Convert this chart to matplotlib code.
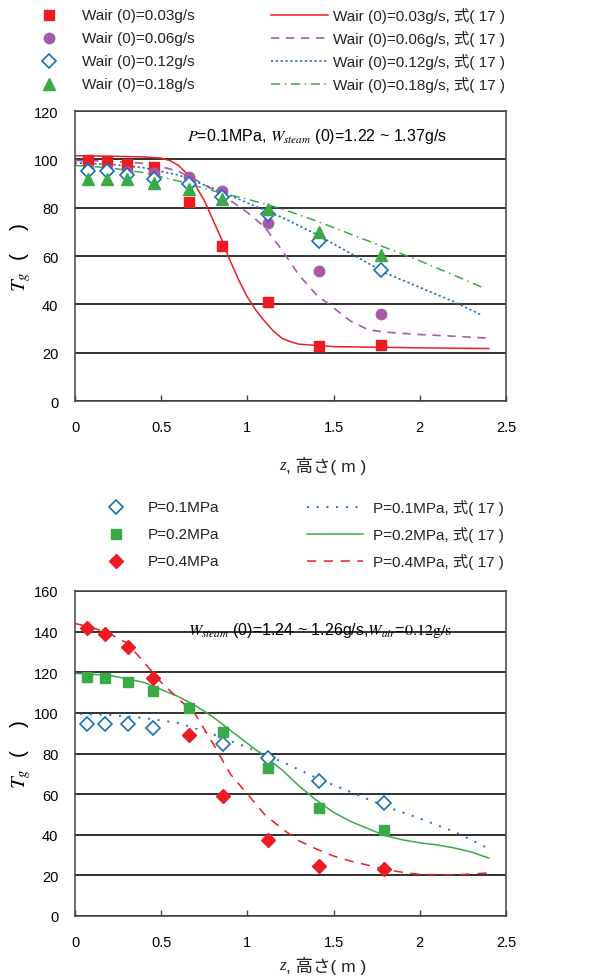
import matplotlib
matplotlib.use('Agg')
import matplotlib.pyplot as plt
from matplotlib.lines import Line2D
import numpy as np

plt.rcParams['font.family'] = ['Liberation Sans', 'Noto Sans CJK JP']
plt.rcParams['mathtext.fontset'] = 'stix'

RED = '#ed1c24'
PURPLE = '#a65aa8'
BLUE = '#1a6fb8'
GREEN = '#3aaa48'

# --- upper panel: measured gas temperature, P=0.1MPa ---
z_meas = [0.075, 0.185, 0.30, 0.46, 0.66, 0.855, 1.12, 1.415, 1.775]
tg_air003 = [99.7, 99.4, 98.0, 96.8, 82.3, 64.0, 41.0, 22.7, 23.3]
tg_air006 = [96.0, 95.7, 94.9, 94.3, 92.8, 87.0, 73.6, 53.6, 36.0]
tg_air012 = [95.3, 95.3, 93.6, 91.8, 89.8, 84.5, 77.4, 66.3, 54.3]
tg_air018 = [91.8, 91.8, 92.0, 90.2, 87.7, 83.6, 79.4, 70.0, 60.4]

# eq.(17) model curves
z_m003 = [0, 0.2, 0.4, 0.5, 0.55, 0.6, 0.65, 0.7, 0.75, 0.8, 0.85, 0.9, 0.95,
          1.0, 1.05, 1.1, 1.15, 1.2, 1.25, 1.3, 1.5, 2.0, 2.4]
t_m003 = [101.5, 101.3, 101.0, 100.5, 99.5, 97.5, 94.0, 89.0, 83.0, 75.0, 67.0, 58.0, 50.0,
          43.0, 37.5, 33.0, 29.0, 26.0, 24.5, 23.5, 22.5, 22.0, 21.7]
z_m006 = [0, 0.2, 0.4, 0.5, 0.6, 0.7, 0.8, 0.9, 1.0, 1.1, 1.2, 1.3, 1.4, 1.5,
          1.6, 1.7, 1.8, 2.0, 2.2, 2.4]
t_m006 = [99.5, 99.3, 98.3, 97.0, 95.0, 91.5, 87.5, 83.0, 78.0, 72.0, 62.5, 52.0, 44.0, 38.5,
          33.0, 29.5, 28.5, 27.5, 26.8, 26.0]
z_m012 = [0, 0.2, 0.4, 0.6, 0.8, 1.0, 1.2, 1.4, 1.6, 1.8, 2.0, 2.2, 2.36]
t_m012 = [98.5, 98.0, 96.5, 93.5, 88.0, 82.0, 76.0, 69.0, 61.0, 53.0, 47.0, 41.0, 35.5]
z_m018 = [0, 0.2, 0.4, 0.6, 0.8, 1.0, 1.2, 1.4, 1.6, 1.8, 2.0, 2.2, 2.38]
t_m018 = [97.5, 96.5, 94.5, 91.0, 87.0, 83.5, 79.5, 74.5, 69.0, 63.5, 58.0, 52.0, 46.5]

# --- lower panel: pressure series, Wair=0.12g/s ---
z_p01 = [0.072, 0.174, 0.31, 0.454, 0.857, 1.12, 1.416, 1.79]
tg_p01 = [94.5, 94.5, 94.5, 92.6, 84.7, 77.8, 66.5, 55.6]
z_p = [0.072, 0.174, 0.31, 0.454, 0.66, 0.857, 1.12, 1.416, 1.79]
tg_p02 = [117.8, 117.2, 115.0, 111.0, 102.4, 90.4, 72.8, 53.0, 42.3]
tg_p04 = [141.8, 138.8, 132.3, 117.0, 89.3, 59.2, 37.4, 24.8, 23.1]

z_c01 = [0.03, 0.2, 0.4, 0.6, 0.8, 1.0, 1.2, 1.4, 1.6, 1.8, 2.0, 2.2, 2.38]
t_c01 = [99.5, 99.0, 97.5, 95.0, 89.5, 83.0, 76.0, 68.0, 61.0, 54.0, 48.0, 41.5, 34.0]
z_c02 = [0, 0.2, 0.4, 0.6, 0.7, 0.8, 0.9, 1.0, 1.1, 1.2, 1.3, 1.4, 1.5, 1.6, 1.7,
         1.8, 1.9, 2.0, 2.1, 2.2, 2.3, 2.4]
t_c02 = [119.5, 118.5, 115.0, 108.0, 103.5, 98.0, 91.5, 85.0, 78.5, 72.0, 64.0, 57.0, 51.0,
         46.5, 43.0, 39.5, 37.5, 36.0, 35.0, 33.5, 31.5, 28.5]
z_c04 = [0, 0.1, 0.2, 0.3, 0.4, 0.5, 0.6, 0.7, 0.8, 0.9, 1.0, 1.1, 1.2, 1.3, 1.4,
         1.5, 1.6, 1.7, 1.8, 1.9, 2.0, 2.2, 2.4]
t_c04 = [144.0, 142.0, 139.0, 134.5, 125.0, 115.0, 107.0, 99.0, 85.0, 70.0, 60.0, 50.0, 43.0,
         37.0, 33.0, 29.5, 27.0, 25.0, 23.0, 21.5, 20.5, 20.2, 21.2]

fig = plt.figure(figsize=(6.08, 9.79), dpi=100)
W, H = 608.0, 979.0


def px(x, y):
    return x / W, 1 - y / H


def style_axes(ax, ymax, xlabel_y):
    ax.set_xlim(0, 2.5)
    ax.set_ylim(0, ymax)
    ax.set_xticks([0, 0.5, 1, 1.5, 2, 2.5])
    ax.set_xticklabels(['0', '0.5', '1', '1.5', '2', '2.5'])
    ax.set_yticks(np.arange(0, ymax + 1, 20))
    ax.yaxis.grid(True, color='#222222', linewidth=1.3)
    ax.set_axisbelow(True)
    ax.tick_params(axis='x', direction='in', length=4, width=1, color='#444444',
                   labelsize=10.5, pad=14)
    ax.tick_params(axis='y', length=0, labelsize=10.5, pad=12)
    for sp in ax.spines.values():
        sp.set_color('#444444')
        sp.set_linewidth(1.1)
    ax.set_ylabel(r'$T_{g}$  (    )', fontsize=15)
    ax.yaxis.set_label_coords(-0.098, 0.5)
    # x label: italic serif z followed by the Japanese caption
    fig.text(*px(286, xlabel_y), 'z', family='Liberation Serif', style='italic',
             fontsize=12.5, ha='right', va='center', color='#222222')
    fig.text(*px(286, xlabel_y), ', 高さ( m )', fontsize=12.5, ha='left', va='center',
             color='#222222')


def legend_row(y, mkx, txtx, lx0, lx1, ltx, mk_kw, ln_kw, mk_text, ln_text):
    x0, y0 = px(mkx, y)
    fig.add_artist(Line2D([x0], [y0], linestyle='none', **mk_kw))
    fig.text(*px(txtx, y), mk_text, fontsize=11, va='center', color='#222222')
    a, b = px(lx0, y)
    c, _ = px(lx1, y)
    fig.add_artist(Line2D([a, c], [b, b], **ln_kw))
    fig.text(*px(ltx, y), ln_text, fontsize=11, va='center', color='#222222')


# upper panel
ax1 = fig.add_axes([75 / W, 1 - 402 / H, 431 / W, 290 / H])
style_axes(ax1, 120, 466)
ax1.plot(z_m003, t_m003, color=RED, lw=1.1)
ax1.plot(z_m006, t_m006, color=PURPLE, lw=1.2, dashes=(5, 4))
ax1.plot(z_m012, t_m012, color=BLUE, lw=1.2, dashes=(1.3, 1.6))
ax1.plot(z_m018, t_m018, color=GREEN, lw=1.1, dashes=(6, 3, 1, 3))
ax1.plot(z_meas, tg_air003, 's', color=RED, ms=7)
ax1.plot(z_meas, tg_air006, 'o', color=PURPLE, ms=7.5)
ax1.plot(z_meas, tg_air012, 'D', mfc='white', mec=BLUE, mew=1.2, ms=7)
ax1.plot(z_meas, tg_air018, '^', color=GREEN, ms=8)
ax1.text(0.561, 0.915, r'$P$=0.1MPa, $W_{\mathit{steam}}$ (0)=1.22 ~ 1.37g/s',
         transform=ax1.transAxes, ha='center', va='center', fontsize=11.5)

# lower panel
ax2 = fig.add_axes([75 / W, 1 - 917 / H, 431 / W, 325 / H])
style_axes(ax2, 160, 966)
ax2.plot(z_c01, t_c01, color=BLUE, lw=1.4, dashes=(1, 4))
ax2.plot(z_c02, t_c02, color=GREEN, lw=1.1)
ax2.plot(z_c04, t_c04, color=RED, lw=1.1, dashes=(6, 5))
ax2.plot(z_p01, tg_p01, 'D', mfc='white', mec=BLUE, mew=1.2, ms=7)
ax2.plot(z_p, tg_p02, 's', color=GREEN, ms=7.5)
ax2.plot(z_p, tg_p04, 'D', color=RED, ms=7.5)
ax2.text(0.568, 0.88, r'$W_{\mathit{steam}}$ (0)=1.24 ~ 1.26g/s,$W_{air}$=$\mathrm{0.12g/s}$',
         transform=ax2.transAxes, ha='center', va='center', fontsize=11.5)

# legends
air_labels = ['0.03', '0.06', '0.12', '0.18']
top_mk = [dict(marker='s', color=RED, ms=7),
          dict(marker='o', color=PURPLE, ms=7.5),
          dict(marker='D', mfc='white', mec=BLUE, mew=1.2, ms=7),
          dict(marker='^', color=GREEN, ms=8)]
top_ln = [dict(color=RED, lw=1.1),
          dict(color=PURPLE, lw=1.2, dashes=(5, 4)),
          dict(color=BLUE, lw=1.2, dashes=(1.3, 1.6)),
          dict(color=GREEN, lw=1.1, dashes=(6, 3, 1, 3))]
for i, lab in enumerate(air_labels):
    legend_row(16 + 23 * i, 49, 82, 271, 328, 333, top_mk[i], top_ln[i],
               'Wair (0)=%sg/s' % lab, 'Wair (0)=%sg/s, 式( 17 )' % lab)

p_labels = ['0.1', '0.2', '0.4']
bot_mk = [dict(marker='D', mfc='white', mec=BLUE, mew=1.2, ms=7),
          dict(marker='s', color=GREEN, ms=7.5),
          dict(marker='D', color=RED, ms=7.5)]
bot_ln = [dict(color=BLUE, lw=1.4, dashes=(1, 4)),
          dict(color=GREEN, lw=1.1),
          dict(color=RED, lw=1.1, dashes=(6, 5))]
for i, lab in enumerate(p_labels):
    legend_row(508 + 27 * i, 116, 148, 307, 363, 373, bot_mk[i], bot_ln[i],
               'P=%sMPa' % lab, 'P=%sMPa, 式( 17 )' % lab)

fig.savefig('out.png', dpi=100)
